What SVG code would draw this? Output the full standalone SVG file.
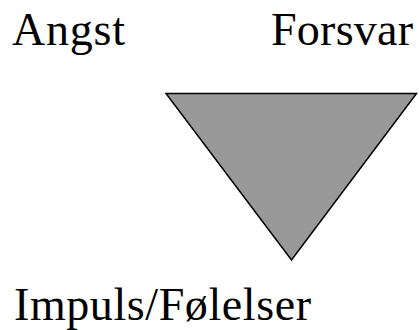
<svg xmlns="http://www.w3.org/2000/svg" width="419" height="330" viewBox="0 0 419 330">
<style>
text { font-family: "Liberation Serif", "Times New Roman", serif; font-size: 46px; fill: #000; }
.tri { fill: #999999; stroke: #000; stroke-width: 1.5; stroke-linejoin: miter; }
</style>
<rect width="419" height="330" fill="#fff"/>
<g id="angst"><text x="12" y="44.5" textLength="113" lengthAdjust="spacing">Angst</text></g>
<g id="forsvar"><text x="271" y="44.5" textLength="142" lengthAdjust="spacing">Forsvar</text></g>
<g id="triangle"><polygon class="tri" points="166,93.5 416.5,93.5 291.5,260"/></g>
<g id="impuls"><text x="14" y="320" textLength="297" lengthAdjust="spacing">Impuls/Følelser</text></g>
<g id="connectors"></g>
</svg>
